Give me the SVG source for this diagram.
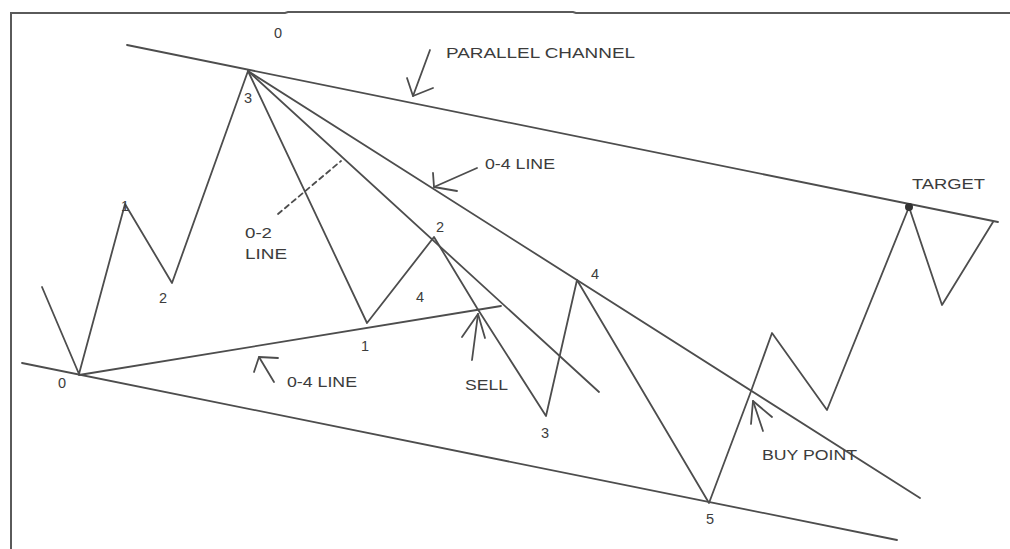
<svg xmlns="http://www.w3.org/2000/svg" width="1010" height="549" viewBox="0 0 1010 549">
<style>
.ln{fill:none;stroke:#4d4d4d;stroke-width:1.8;stroke-linecap:round;stroke-linejoin:round}
.fr{fill:none;stroke:#5a5a5a;stroke-width:2}
.t{font-family:"Liberation Sans",Arial,sans-serif;font-size:14.5px;fill:#3c3c3c}
.m{text-anchor:middle}
</style>
<rect width="1010" height="549" fill="#ffffff"/>
<g id="frame">
<polyline class="fr" points="10,13 285,13 288,12 573,12 576,13 1010,13"/>
<line class="fr" x1="11" y1="13" x2="11" y2="549"/>
</g>
<g id="connectors">
<line id="upper-channel" class="ln" x1="127" y1="45" x2="998" y2="222"/>
<line id="lower-channel" class="ln" x1="22" y1="363" x2="897" y2="540"/>
<line id="fan-0-4" class="ln" x1="248" y1="71" x2="920" y2="498"/>
<line id="fan-0-2" class="ln" x1="248" y1="71" x2="599" y2="392"/>
<line id="line-0-4-lower" class="ln" x1="79" y1="375" x2="501" y2="306"/>
<polyline id="wave" class="ln" points="42,287 79,374 125,204 172,283 248,71 367,323 434,237 477,308 546,416 577,280 709,503 750,394 772,333 827,410 909,207 942,305 993,222"/>
<line id="pointer-0-2" class="ln" x1="278" y1="214" x2="341" y2="161" stroke-dasharray="5,4"/>
<g id="arrow-channel">
<line class="ln" x1="430" y1="50" x2="413" y2="96"/>
<polyline class="ln" points="407,78 413,96 433,88"/>
</g>
<g id="arrow-04-upper">
<line class="ln" x1="477" y1="168" x2="434" y2="187"/>
<polyline class="ln" points="433,173 434,187 457,191"/>
</g>
<g id="arrow-04-lower">
<line class="ln" x1="274" y1="382" x2="259" y2="357"/>
<polyline class="ln" points="254,372 259,357 278,358"/>
</g>
<g id="arrow-sell">
<line class="ln" x1="472" y1="360" x2="478" y2="314"/>
<polyline class="ln" points="462,337 478,314 485,338"/>
</g>
<g id="arrow-buy">
<line class="ln" x1="763" y1="431" x2="753" y2="401"/>
<polyline class="ln" points="751,424 753,401 772,417"/>
</g>
</g>
<g id="target-node"><circle cx="909" cy="207" r="4" fill="#333333"/></g>
<g id="labels">
<text id="l-0-top" class="t m" x="278" y="38">0</text>
<text id="l-channel" class="t" x="446" y="58" textLength="189" lengthAdjust="spacingAndGlyphs">PARALLEL CHANNEL</text>
<text id="l-3-top" class="t m" x="248" y="103">3</text>
<text id="l-1-left" class="t m" x="125" y="211">1</text>
<text id="l-2-left" class="t m" x="163" y="303">2</text>
<text id="l-02" class="t" x="245" y="238" textLength="27" lengthAdjust="spacingAndGlyphs">0-2</text>
<text id="l-02-line" class="t" x="245" y="259" textLength="42" lengthAdjust="spacingAndGlyphs">LINE</text>
<text id="l-1-mid" class="t m" x="365" y="351">1</text>
<text id="l-4-mid" class="t m" x="420" y="302">4</text>
<text id="l-2-mid" class="t m" x="440" y="232">2</text>
<text id="l-4-right" class="t m" x="595" y="279">4</text>
<text id="l-04-upper" class="t" x="485" y="169" textLength="70" lengthAdjust="spacingAndGlyphs">0-4 LINE</text>
<text id="l-04-lower" class="t" x="287" y="387" textLength="70" lengthAdjust="spacingAndGlyphs">0-4 LINE</text>
<text id="l-0-lower" class="t m" x="62" y="388">0</text>
<text id="l-sell" class="t" x="465" y="390" textLength="43" lengthAdjust="spacingAndGlyphs">SELL</text>
<text id="l-3-low" class="t m" x="545" y="438">3</text>
<text id="l-5" class="t m" x="710" y="524">5</text>
<text id="l-buy" class="t" x="762" y="460" textLength="95" lengthAdjust="spacingAndGlyphs">BUY POINT</text>
<text id="l-target" class="t" x="912" y="189" textLength="73" lengthAdjust="spacingAndGlyphs">TARGET</text>
</g>
</svg>
